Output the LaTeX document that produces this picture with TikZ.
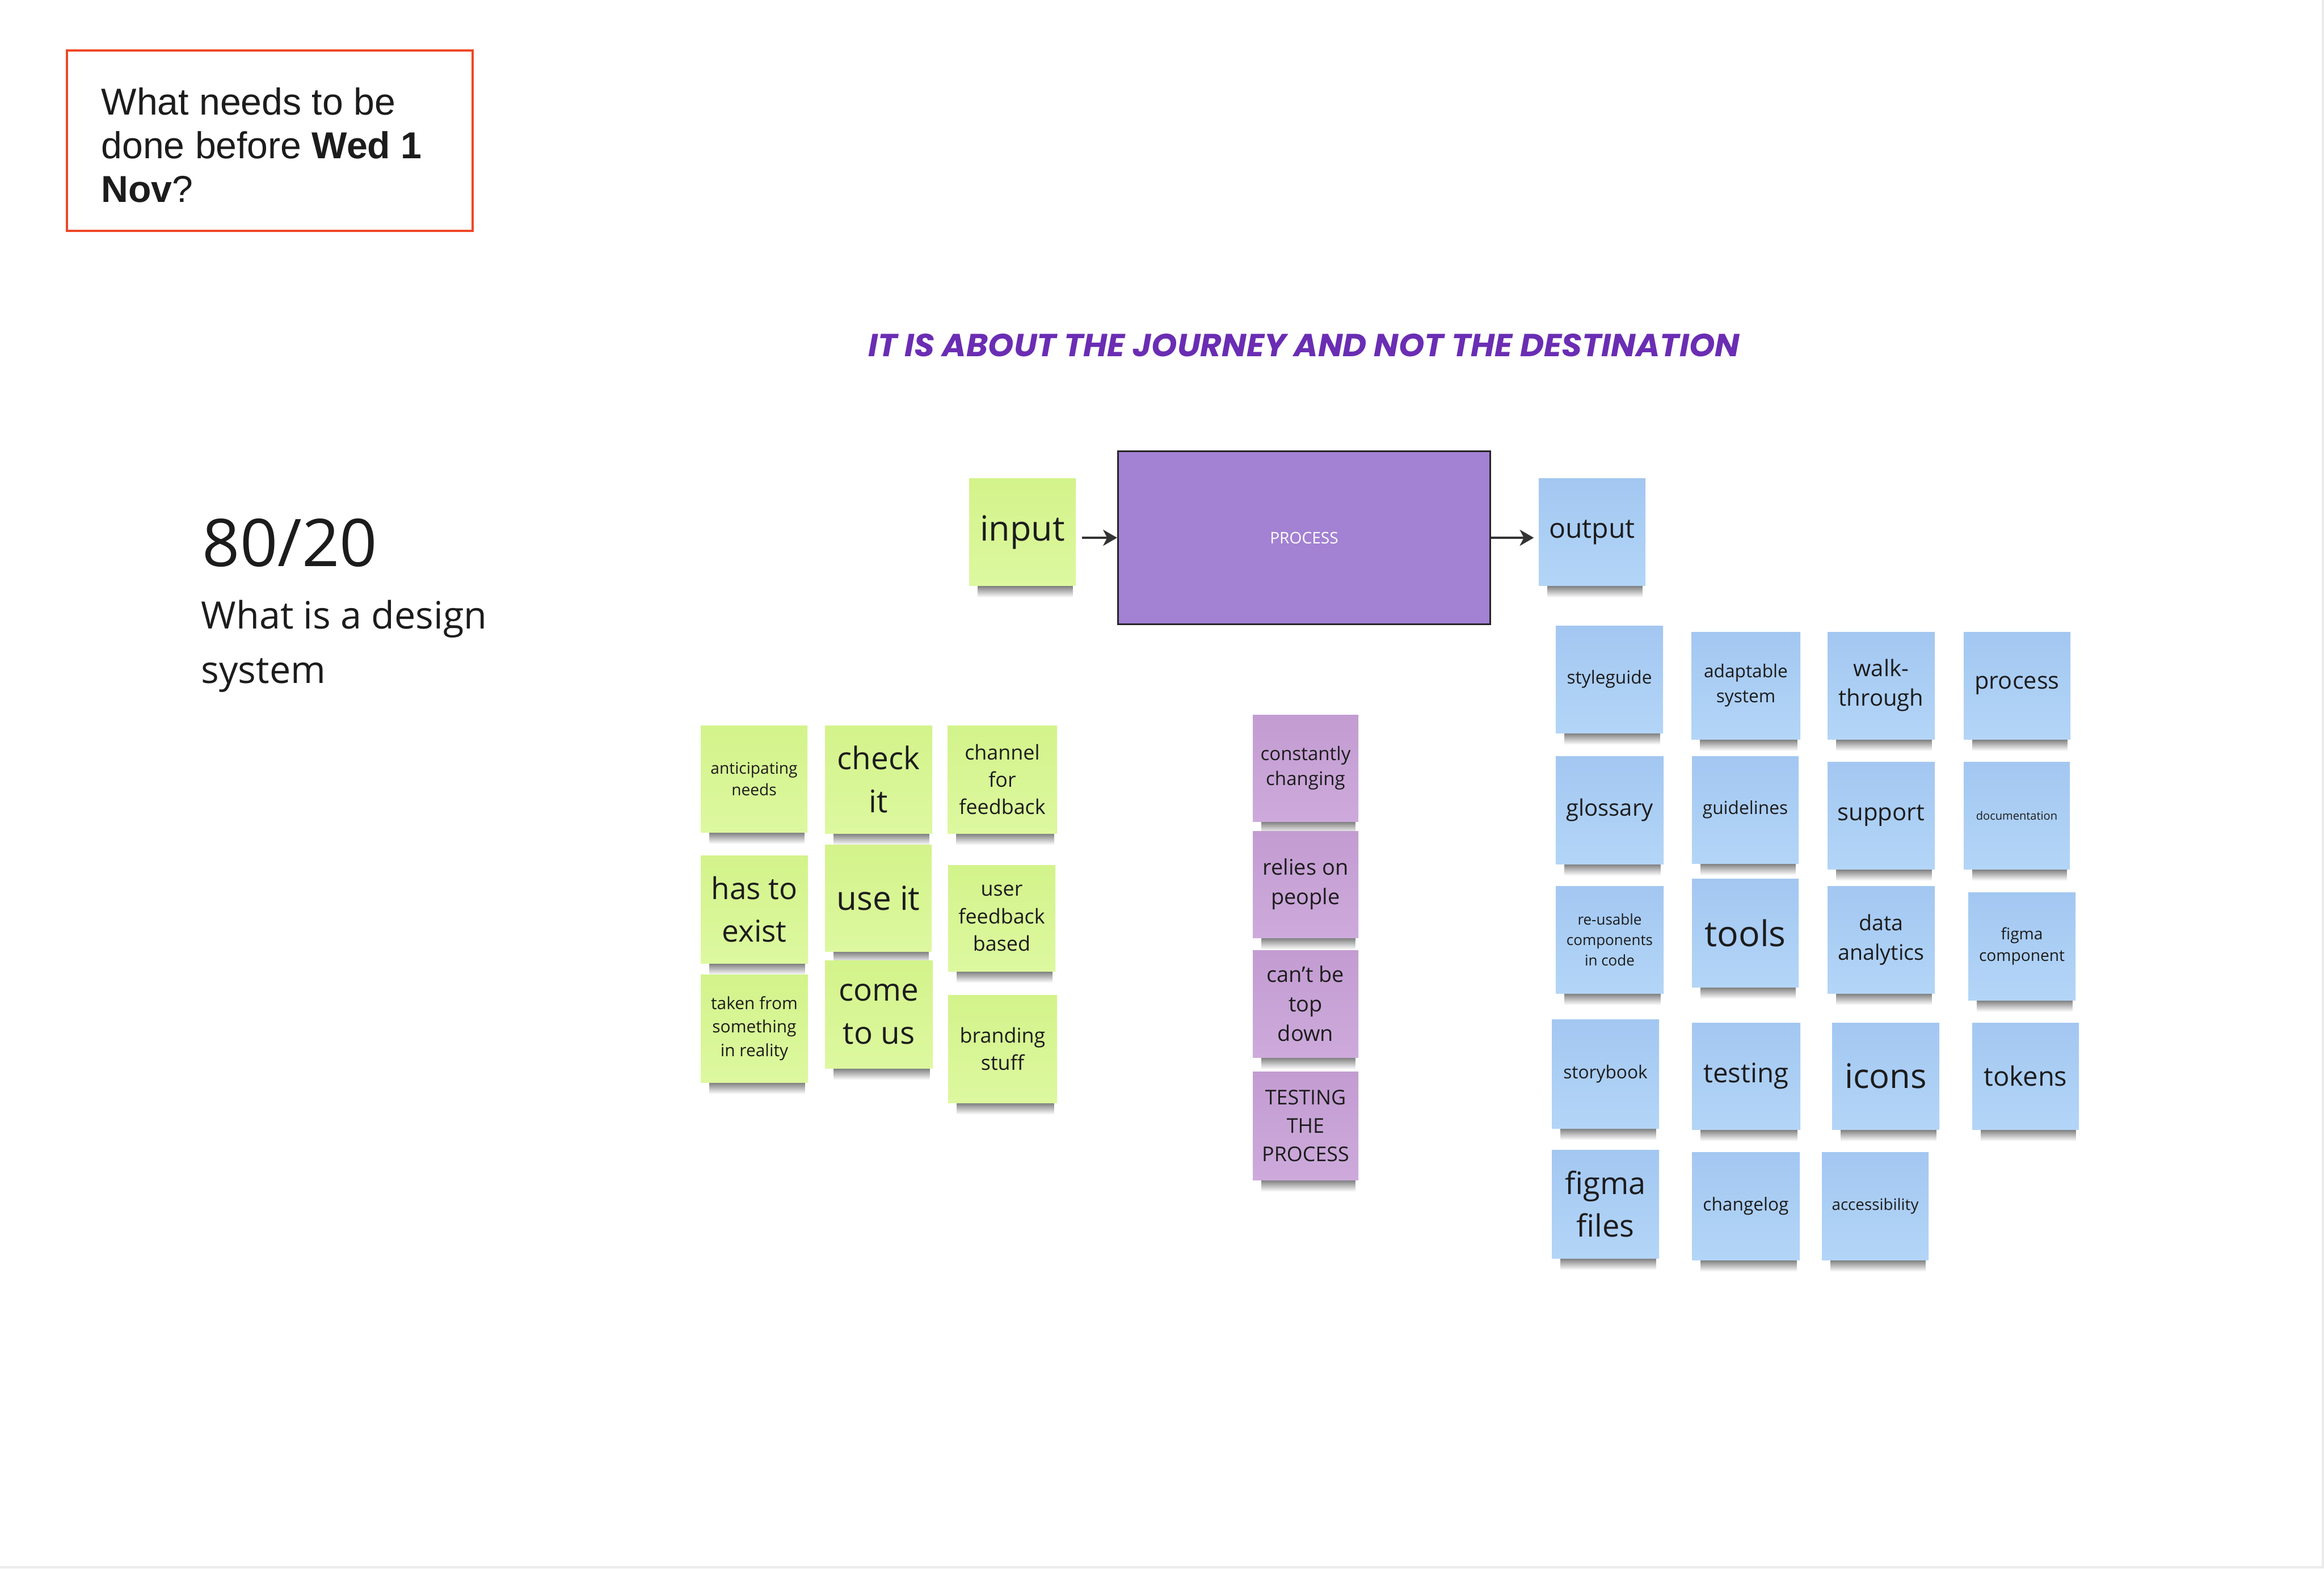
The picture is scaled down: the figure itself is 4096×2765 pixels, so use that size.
\documentclass[tikz,border=0pt]{standalone}
\usepackage{fontspec}
\usepackage{graphicx}
\setmainfont{Open Sans}
\newfontfamily\arialf{Liberation Sans}
\newfontfamily\popf{Poppins}
\usetikzlibrary{arrows.meta,fadings,backgrounds}
\definecolor{gtop}{HTML}{D3F38B}
\definecolor{gbot}{HTML}{DDF89F}
\definecolor{btop}{HTML}{A3C7F1}
\definecolor{bbot}{HTML}{B3D5F7}
\definecolor{ptop}{HTML}{C39CD2}
\definecolor{pbot}{HTML}{CDAADB}
\definecolor{procfill}{HTML}{A381D3}
\definecolor{redbox}{HTML}{EE4827}
\definecolor{bannerc}{HTML}{6A2DB3}
\definecolor{txt}{HTML}{1C1C1C}
\definecolor{arrc}{HTML}{333333}
\definecolor{edgec}{HTML}{EBEBEB}
\tikzfading[name=shfade, top color=transparent!0, bottom color=transparent!100]
\begin{document}
\begin{tikzpicture}[x=0.01cm, y=-0.01cm,
  note/.style={inner sep=0, align=center, text=txt},
  gnote/.style={note, top color=gtop, bottom color=gbot},
  bnote/.style={note, top color=btop, bottom color=bbot},
  pnote/.style={note, top color=ptop, bottom color=pbot},
  sz/.style 2 args={minimum width=#1*0.01cm, minimum height=#2*0.01cm},
  fnt/.style 2 args={font={\fontsize{#1pt}{#2pt}\selectfont}},
  plain/.style={anchor=base west, inner sep=0, text=txt},
  arr/.style={draw=arrc, line width=1.4pt, -{Stealth[length=7pt, width=8pt, inset=2pt]}},
  shadow/.style={fill=black, opacity=0.55, path fading=shfade}
]
\begin{pgfonlayer}{background}
\fill[white] (0,0) rectangle (4096,2765);
\fill[edgec] (4092,0) rectangle (4096,2765);
\fill[edgec] (0,2761) rectangle (4096,2765);
\end{pgfonlayer}
\useasboundingbox (0,0) rectangle (4096,2765);

% title box
\node[draw=redbox, line width=1.4pt, sz={715}{318}, inner sep=0] (qbox) at (475.5,248) {};
\node[plain, font=\arialf\fontsize{18.8pt}{22pt}\selectfont] (q1) at (178,202) {What needs to be};
\node[plain, font=\arialf\fontsize{18.8pt}{22pt}\selectfont] (q2) at (178,279) {done before \textbf{Wed 1}};
\node[plain, font=\arialf\fontsize{18.8pt}{22pt}\selectfont] (q3) at (178,356) {\textbf{Nov}?};

% 80/20
\node[plain, fnt={33}{40}] (ratio) at (356,998) {80/20};
\node[plain, fnt={18.9}{24}] (wd1) at (354,1108) {What is a design};
\node[plain, fnt={18.9}{24}] (wd2) at (354,1204) {system};

% banner
\node[anchor=base, inner sep=0, text=bannerc] (banner) at (2298,628)
  {\resizebox{15.35cm}{0.40cm}{\popf\bfseries\itshape IT IS ABOUT THE JOURNEY AND NOT THE DESTINATION}};

% process row
\node[draw=black!85, line width=0.9pt, fill=procfill, sz={656}{305}, inner sep=0, text=white, fnt={8}{10}] (proc) at (2298.5,948) {PROCESS};
\node[gnote, sz={188}{189}, fnt={17.4}{22}] (input) at (1802,938) {input};
\node[bnote, sz={188}{189}, fnt={13.7}{18}] (output) at (2806,938) {output};
\draw[arr] ([xshift=0.1cm]input.east |- proc.west) -- (proc.west);
\draw[arr] (proc.east) -- ([xshift=-0.08cm]output.west |- proc.east);

% green notes
\node[gnote, sz={188}{188}, fnt={8.0}{10.7}] (g1) at (1329,1373) {anticipating\\needs};
\node[gnote, sz={189}{190}, fnt={15.6}{21.6}] (g2) at (1548.5,1374) {check\\it};
\node[gnote, sz={193}{190}, fnt={10.2}{13.7}] (g3) at (1766.5,1374) {channel\\for\\feedback};
\node[gnote, sz={189}{190}, fnt={15.1}{21.3}] (g4) at (1329.5,1603) {has to\\exist};
\node[gnote, sz={188}{188}, fnt={16.6}{22}] (g5) at (1548,1583) {use it};
\node[gnote, sz={189}{187}, fnt={10.2}{13.7}] (g6) at (1765.5,1618.5) {user\\feedback\\based};
\node[gnote, sz={189}{190}, fnt={8.5}{11.7}] (g7) at (1329.5,1813) {taken from\\something\\in reality};
\node[gnote, sz={190}{190}, fnt={15.6}{21.6}] (g8) at (1549,1788) {come\\to us};
\node[gnote, sz={192}{190}, fnt={10.2}{13.4}] (g9) at (1767,1849) {branding\\stuff};

% purple notes
\node[pnote, sz={186}{188}, fnt={9.4}{12.5}] (p1) at (2301,1354) {constantly\\changing};
\node[pnote, sz={186}{188}, fnt={10.8}{14.8}] (p2) at (2301,1559) {relies on\\people};
\node[pnote, sz={186}{189}, fnt={10.8}{14.8}] (p3) at (2301,1769.5) {can't be\\top\\down};
\node[pnote, sz={186}{191}, fnt={10.2}{14.2}] (p4) at (2301,1984.5) {TESTING\\THE\\PROCESS};

% blue notes
\node[bnote, sz={189}{189}, fnt={9}{12}] (b1) at (2836.5,1197.5) {styleguide};
\node[bnote, sz={192}{189}, fnt={9}{12.5}] (b2) at (3077,1208.5) {adaptable\\system};
\node[bnote, sz={189}{189}, fnt={11.4}{14.8}] (b3) at (3315.5,1208.5) {walk-\\through};
\node[bnote, sz={188}{189}, fnt={11.8}{15}] (b4) at (3555,1208.5) {process};
\node[bnote, sz={190}{190}, fnt={11.4}{15}] (b5) at (2837,1428) {glossary};
\node[bnote, sz={188}{189}, fnt={9}{12}] (b6) at (3076,1427.5) {guidelines};
\node[bnote, sz={189}{189}, fnt={11.9}{15}] (b7) at (3315.5,1437.5) {support};
\node[bnote, sz={187}{189}, fnt={5.7}{7.5}] (b8) at (3554.5,1437.5) {documentation};
\node[bnote, sz={190}{189}, fnt={7.4}{10.2}] (b9) at (2837,1656.5) {re-usable\\components\\in code};
\node[bnote, sz={188}{191}, fnt={17.8}{22}] (b10) at (3076,1644.5) {tools};
\node[bnote, sz={189}{189}, fnt={10.7}{14.8}] (b11) at (3315.5,1656.5) {data\\analytics};
\node[bnote, sz={189}{190}, fnt={8}{10.8}] (b12) at (3563.5,1668) {figma\\component};
\node[bnote, sz={189}{192}, fnt={9}{12}] (b13) at (2829.5,1893) {storybook};
\node[bnote, sz={191}{188}, fnt={13.5}{17}] (b14) at (3077.5,1897) {testing};
\node[bnote, sz={189}{188}, fnt={17}{21}] (b15) at (3323.5,1897) {icons};
\node[bnote, sz={188}{188}, fnt={13.4}{17}] (b16) at (3570,1897) {tokens};
\node[bnote, sz={189}{191}, fnt={15.4}{21.6}] (b17) at (2829.5,2122.5) {figma\\files};
\node[bnote, sz={190}{190}, fnt={9}{12}] (b18) at (3077,2126) {changelog};
\node[bnote, sz={188}{190}, fnt={7.9}{10.5}] (b19) at (3305,2126) {accessibility};

% shadows
\begin{pgfonlayer}{background}
\foreach \n in {input,output,g1,g2,g3,g4,g5,g6,g7,g8,g9,p1,p2,p3,p4,b1,b2,b3,b4,b5,b6,b7,b8,b9,b10,b11,b12,b13,b14,b15,b16,b17,b18,b19}
  \fill[shadow] ([xshift=0.16cm, yshift=0.02cm]\n.south west) rectangle ([xshift=-0.06cm, yshift=-0.2cm]\n.south east);
\end{pgfonlayer}
\end{tikzpicture}
\end{document}
